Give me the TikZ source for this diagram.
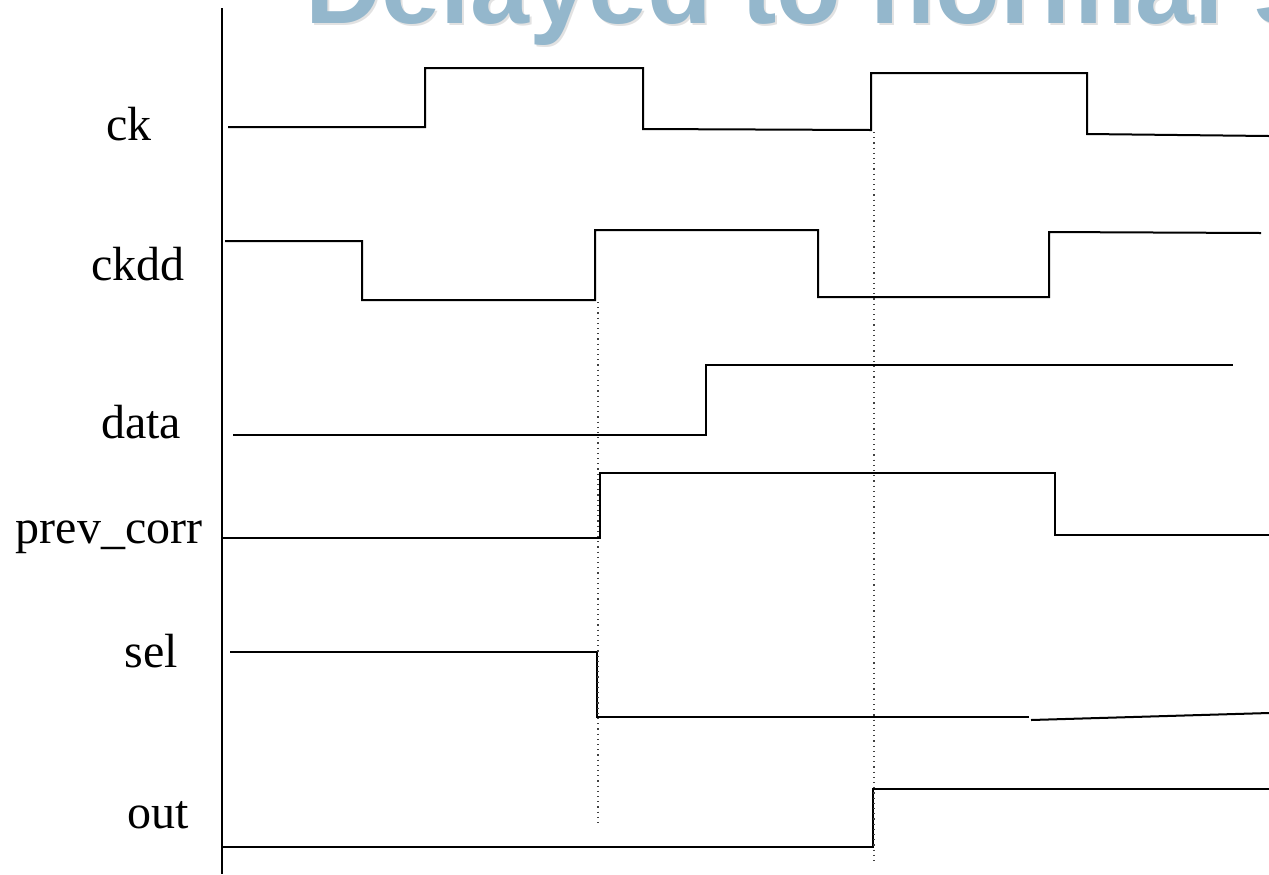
\documentclass[tikz,border=0pt]{standalone}
\usepackage{fontspec}
\setmainfont{Liberation Serif}
\newfontfamily\titlefont{Liberation Sans}
\usepackage{xcolor}
\usepackage{tikz}
\usetikzlibrary{positioning}
\definecolor{titleblue}{HTML}{94B7CC}
\definecolor{shadowgray}{HTML}{E2E2E2}
\tikzstyle{wave} = [line width=1pt, line join=miter]
\tikzstyle{guide} = [dotted, line width=0.6pt, black!75]
\tikzstyle{siglabel} = [anchor=base, inner sep=0pt, font=\fontsize{24}{28}\selectfont]
\tikzstyle{heading} = [anchor=base west, inner sep=0pt, font=\titlefont\bfseries\fontsize{53}{60}\selectfont]

\begin{document}
\begin{tikzpicture}[x=0.5pt, y=-0.5pt]
    \useasboundingbox (0,0) rectangle (1269,874);

    % title, cut by the top edge
    \node[heading, shadowgray] (titleshadow) at (307,25) {Delayed to normal s};
    \node[heading, titleblue] (title) at (305,23) {Delayed to normal s};

    % signal names
    \node[siglabel] (ck) at (129,140) {ck};
    \node[siglabel] (ckdd) at (138,280) {ckdd};
    \node[siglabel] (data) at (141,438) {data};
    \node[siglabel] (prevcorr) at (109,543) {prev\_corr};
    \node[siglabel] (sel) at (151,667) {sel};
    \node[siglabel] (out) at (158,828) {out};

    % time axis
    \draw [line width=1pt] (222,8) -- (222,874);

    % waveforms
    \draw [wave] (228,127) -- (425,127) -- (425,68) -- (643,68) -- (643,129) -- (871,130)
                 -- (871,73) -- (1087,73) -- (1087,134) -- (1269,136);
    \draw [wave] (225,241) -- (362,241) -- (362,300) -- (595,300) -- (595,230) -- (818,230)
                 -- (818,297) -- (1049,297) -- (1049,232) -- (1261,233);
    \draw [wave] (233,435) -- (706,435) -- (706,365) -- (1233,365);
    \draw [wave] (222,538) -- (600,538) -- (600,473) -- (1055,473) -- (1055,535) -- (1269,535);
    \draw [wave] (230,652) -- (597,652) -- (597,717) -- (1029,717);
    \draw [wave] (1031,720) -- (1269,713);
    \draw [wave] (222,847) -- (873,847) -- (873,789) -- (1269,789);

    % edge markers
    \draw [guide] (598,302) -- (598,826);
    \draw [guide] (874,132) -- (874,863);
\end{tikzpicture}
\end{document}
